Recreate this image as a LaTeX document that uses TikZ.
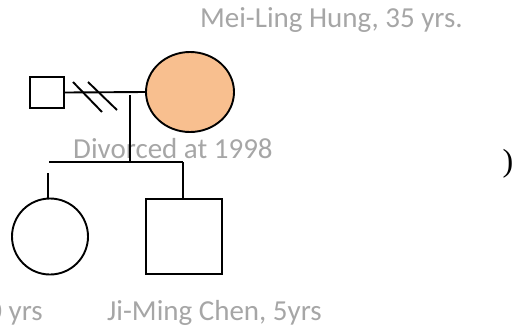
\documentclass[tikz,border=0pt]{standalone}
\usepackage{fontspec}
\setmainfont{Carlito}
\newfontfamily\serifpar{Liberation Serif}
\usetikzlibrary{shapes.geometric}
\definecolor{peach}{HTML}{F8BF8F}
\definecolor{lblgray}{HTML}{A6A6A6}
\begin{document}
\begin{tikzpicture}[x=1pt,y=-1pt,
  ln/.style={line width=1.9pt,black},
  person/.style={draw=black,line width=1.9pt,inner sep=0pt},
  lbl/.style={text=lblgray,font=\fontsize{29}{33}\selectfont,inner sep=0pt}]
\useasboundingbox (0,0) rectangle (516,333);
\begin{scope}
\clip (0,0) rectangle (516,333);
% labels
\node[lbl,anchor=base east] (lmei) at (463,27) {Mei-Ling Hung, 35 yrs.};
\node[lbl,anchor=base west] (ldiv) at (73,158) {Divorced at 1998};
\node[lbl,anchor=base east] (lc1) at (43,320) {0 yrs};
\node[lbl,anchor=base west] (lc2) at (107,320) {Ji-Ming Chen, 5yrs};
\node[inner sep=0pt,font=\serifpar\fontsize{32}{36}\selectfont] (par) at (508,164) {)};
% persons
\node[person,rectangle,minimum width=34pt,minimum height=31pt] (fa) at (47,92.5) {};
\node[person,ellipse,fill=peach,minimum width=88pt,minimum height=80pt] (mo) at (190,92) {};
\node[person,circle,minimum size=76pt] (c1) at (50,236.5) {};
\node[person,rectangle,minimum width=76pt,minimum height=75pt] (c2) at (184,236.5) {};
% connectors
\coordinate (m) at (130,95);
\coordinate (s) at (130,162);
\coordinate (sl) at (49,162);
\coordinate (sr) at (183,162);
\coordinate (d1) at (48,173);
\coordinate (a1) at (73,82); \coordinate (b1) at (102,112);
\coordinate (a2) at (88,82); \coordinate (b2) at (117,110);
\draw[ln] (fa.east) -- (mo.west);
\draw[ln] (a1) -- (b1);
\draw[ln] (a2) -- (b2);
\draw[ln] (m) -- (s);
\draw[ln] (sl) -- (sr);
\draw[ln] (d1) -- (d1 |- c1.north);
\draw[ln] (sr) -- (sr |- c2.north);
\end{scope}
\end{tikzpicture}
\end{document}
